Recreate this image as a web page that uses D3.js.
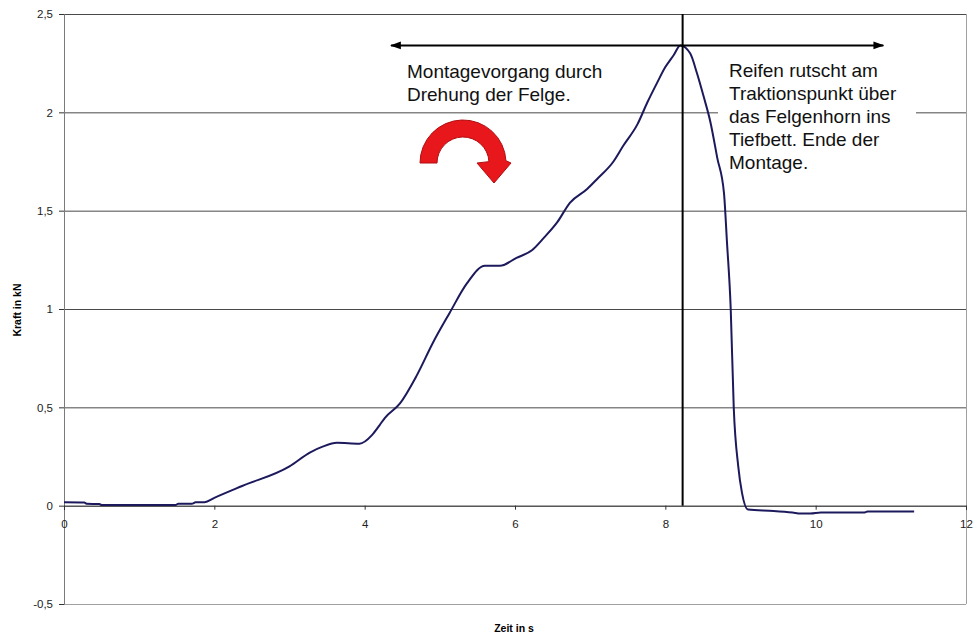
<!DOCTYPE html>
<html><head><meta charset="utf-8">
<script src="https://cdn.jsdelivr.net/npm/d3@7"></script>
<style>body{margin:0;background:#fff}svg{display:block;font-family:"Liberation Sans",Arial,sans-serif}</style>
</head><body>
<svg id="c" width="975" height="637"></svg>
<script>
const time  = [0,0.27,0.3,0.47,0.5,1.0,1.49,1.52,1.7,1.75,1.87,2.0,2.37,3.0,3.27,3.44,3.63,3.93,4.1,4.2,4.27,4.47,4.69,4.91,5.13,5.36,5.6,5.8,6.02,6.23,6.38,6.56,6.73,6.96,7.09,7.31,7.44,7.63,7.76,7.89,8.0,8.11,8.2,8.33,8.42,8.51,8.6,8.69,8.78,8.82,8.87,8.91,8.97,9.02,9.1,9.44,9.69,9.8,9.93,10.07,10.64,10.69,11.31];
const force = [0.017,0.016,0.01,0.008,0.004,0.004,0.004,0.01,0.01,0.017,0.018,0.04,0.1,0.2,0.27,0.30,0.32,0.315,0.36,0.41,0.447,0.52,0.66,0.83,0.98,1.13,1.22,1.22,1.26,1.30,1.36,1.44,1.54,1.61,1.66,1.75,1.83,1.94,2.05,2.15,2.23,2.29,2.34,2.30,2.2,2.08,1.95,1.77,1.59,1.34,1.0,0.5,0.2,0.065,-0.02,-0.027,-0.035,-0.04,-0.04,-0.035,-0.035,-0.03,-0.03];
const xTicks = [0,2,4,6,8,10,12];
const yTicks = [-0.5,0,0.5,1,1.5,2,2.5];
const markerTime = 8.23;
const arrowFrom = 4.35, arrowTo = 10.9, arrowLevel = 2.34;
const noteLeft = ["Montagevorgang durch","Drehung der Felge."];
const noteRight = ["Reifen rutscht am","Traktionspunkt über","das Felgenhorn ins","Tiefbett. Ende der","Montage."];

const svg = d3.select("#c");
const L=64,R=966,T=14,B=604;
const x = d3.scaleLinear().domain([0,12]).range([L,R]);
const y = d3.scaleLinear().domain([-0.5,2.5]).range([B,T]);
const fmt = d => String(d).replace(".",",");

// gridlines
svg.append("g").selectAll("line").data(yTicks.filter(d=>d!==0)).join("line")
  .attr("x1",L).attr("x2",R).attr("y1",d=>y(d)+0.5).attr("y2",d=>y(d)+0.5)
  .attr("stroke",d=>d===-0.5?"#a0a0a0":"#4a4a4a").attr("stroke-width",1);
// right border
svg.append("line").attr("x1",R+0.5).attr("x2",R+0.5).attr("y1",T).attr("y2",B).attr("stroke","#a0a0a0");

// y axis
const ya = svg.append("g").attr("transform",`translate(${L},0)`)
  .call(d3.axisLeft(y).tickValues(yTicks).tickFormat(fmt).tickSize(5).tickPadding(6));
ya.select(".domain").attr("stroke","#7a7a7a");
ya.selectAll(".tick line").attr("stroke","#333");
ya.selectAll("text").attr("font-size",11.5).attr("fill","#222").attr("font-family","Liberation Sans, Arial");

// x axis at y=0
const xa = svg.append("g").attr("transform",`translate(0,${y(0)})`)
  .call(d3.axisBottom(x).tickValues(xTicks).tickFormat(fmt).tickSize(4).tickPadding(10));
xa.select(".domain").attr("stroke","#000");
xa.selectAll(".tick line").attr("stroke","#333");
xa.selectAll("text").attr("font-size",11.5).attr("fill","#222").attr("font-family","Liberation Sans, Arial");

// axis titles
svg.append("text").attr("x",514).attr("y",632).attr("text-anchor","middle")
  .attr("font-size",10.5).attr("font-weight","bold").text("Zeit in s");
svg.append("text").attr("transform","translate(21,310) rotate(-90)").attr("text-anchor","middle")
  .attr("font-size",10.5).attr("font-weight","bold").text("Kraft in kN");

// white box for right note
svg.append("rect").attr("x",718).attr("y",56).attr("width",198).attr("height",124).attr("fill","#fff");

// data line
const pts = time.map((t,i)=>[t,force[i]]);
svg.append("path").datum(pts)
  .attr("d",d3.line().x(d=>x(d[0])).y(d=>y(d[1])).curve(d3.curveMonotoneX))
  .attr("fill","none").attr("stroke","#1c1a5c").attr("stroke-width",2).attr("stroke-linejoin","round");

// marker vertical line
svg.append("line").attr("x1",x(markerTime)).attr("x2",x(markerTime)).attr("y1",T).attr("y2",y(0))
  .attr("stroke","#000").attr("stroke-width",2);

// double arrow
const defs = svg.append("defs");
defs.append("marker").attr("id","ah").attr("viewBox","0 0 10 10").attr("refX",9).attr("refY",5)
  .attr("markerWidth",11).attr("markerHeight",11).attr("markerUnits","userSpaceOnUse")
  .attr("orient","auto-start-reverse")
  .append("path").attr("d","M0,1.5 L10,5 L0,8.5 Z").attr("fill","#000");
svg.append("line").attr("x1",x(arrowFrom)).attr("x2",x(arrowTo)).attr("y1",y(arrowLevel)).attr("y2",y(arrowLevel))
  .attr("stroke","#000").attr("stroke-width",2)
  .attr("marker-start","url(#ah)").attr("marker-end","url(#ah)");

// notes
svg.append("text").attr("font-size",19).attr("fill","#111")
  .selectAll("tspan").data(noteLeft).join("tspan").attr("x",407).attr("y",(d,i)=>78+i*22.5).text(d=>d);
svg.append("text").attr("font-size",19).attr("fill","#111")
  .selectAll("tspan").data(noteRight).join("tspan").attr("x",729).attr("y",(d,i)=>77+i*23).text(d=>d);

// red curved arrow
const cx=463, cy=163, ro=43, ri=26, a=3*Math.PI/180;
const arc = `M${cx-ro},${cy} A${ro},${ro} 0 0 1 ${cx+ro*Math.cos(a)},${cy-ro*Math.sin(a)} L${cx+ro+5},${cy} L${cx+31},${cy+20} L${cx+ri-12},${cy} L${cx+ri*Math.cos(a)},${cy-ri*Math.sin(a)} A${ri},${ri} 0 0 0 ${cx-ri},${cy} Z`;
svg.append("path").attr("d",arc).attr("fill","#e8171b").attr("stroke","#b00d10").attr("stroke-width",1);
</script>
</body></html>
